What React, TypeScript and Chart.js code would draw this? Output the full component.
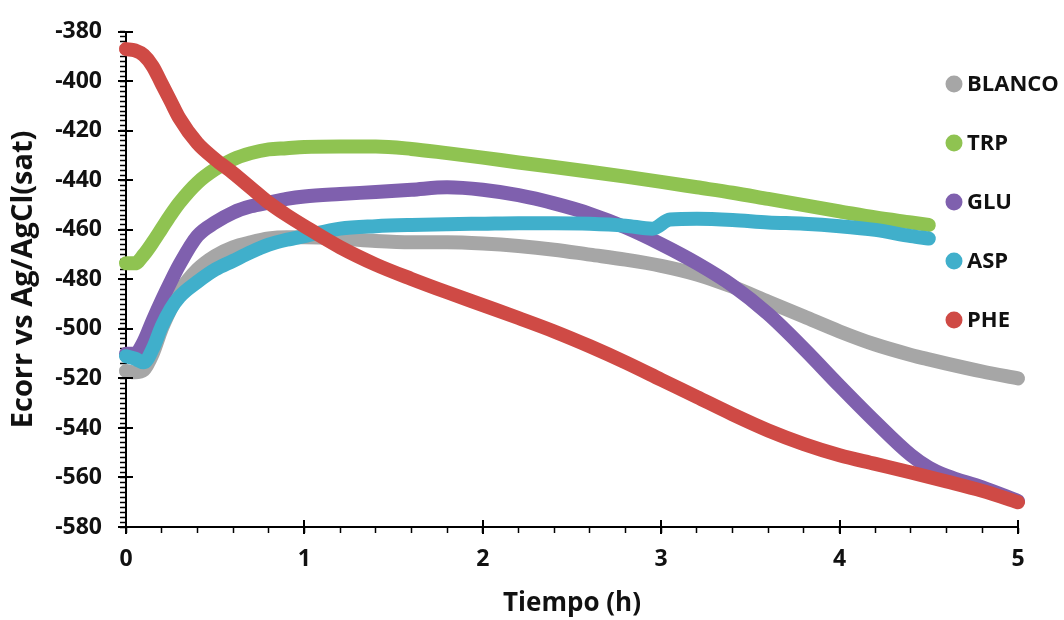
import React, { useEffect, useRef } from 'react';
import { Chart, registerables } from 'chart.js';

Chart.register(...registerables);

// ---- Data ----
const timeH = [0, 0.05, 0.1, 0.15, 0.2, 0.25, 0.3, 0.4, 0.5, 0.6, 0.7, 0.8, 0.9, 1.0, 1.2, 1.4, 1.6, 1.8, 2.0, 2.2, 2.4, 2.6, 2.8, 3.0, 3.2, 3.4, 3.6, 3.8, 4.0, 4.2, 4.4, 4.5, 4.6, 4.8, 5.0];
const timeTrp = timeH.slice(0, 32);
const timeAsp = [0, 0.05, 0.1, 0.15, 0.2, 0.25, 0.3, 0.4, 0.5, 0.6, 0.7, 0.8, 0.9, 1.0, 1.2, 1.4, 1.6, 1.8, 2.0, 2.2, 2.4, 2.6, 2.8, 2.95, 3.05, 3.2, 3.4, 3.6, 3.8, 4.0, 4.2, 4.4, 4.5];

const blanco = [-517, -517.5, -516.5, -510, -500, -492, -485, -476, -470.5, -467, -465, -463.5, -463, -463, -463.5, -464.5, -465, -465, -465.5, -466.5, -468, -470, -472, -474.5, -478, -483, -489, -495, -501, -506.3, -510.5, -512.3, -514, -517.2, -520];
const trp = [-473.5, -473.5, -470, -465, -459.5, -454, -449, -441, -435.5, -431.5, -429, -427.5, -427, -426.5, -426.3, -426.3, -427.3, -429, -430.8, -432.8, -434.6, -436.5, -438.5, -440.6, -442.8, -445, -447.5, -450, -452.5, -455, -457, -458];
const glu = [-510, -510, -505, -496.5, -488.5, -481, -474, -462.5, -457, -453, -450.5, -449, -447.5, -446.5, -445.5, -444.7, -443.8, -442.8, -443.8, -446, -449.3, -453.5, -459, -465.8, -473.5, -482.5, -494, -508, -523, -537.5, -551, -556, -559.3, -564, -569.5];
const asp = [-511, -512, -513.5, -508, -499, -492, -487, -481, -476, -472.5, -469, -466, -464, -462.5, -459.5, -458.5, -458, -457.7, -457.5, -457.3, -457.3, -457.5, -458.3, -459.5, -455.8, -455.5, -456, -457, -457.5, -458.5, -460, -462.5, -463.5];
const phe = [-387, -387.5, -389.5, -394, -401, -408, -415, -425, -431.5, -437, -443, -449, -454, -458.5, -467, -474, -479.8, -485.2, -490.4, -495.6, -501, -507, -513.5, -520.5, -527.5, -534.5, -541, -546.5, -551, -554.5, -558, -559.8, -561.6, -565.4, -570];

const seriesLabels = ['BLANCO', 'TRP', 'GLU', 'ASP', 'PHE'];
const seriesColors = ['#A6A6A6', '#8FC351', '#7F60AE', '#40AFCB', '#CF4A45'];

const xMin = 0, xMax = 5, xMinorStep = 0.2, xMajorStep = 1;
const yMin = -580, yMax = -380, yMinorStep = 2, yMajorStep = 20;
const xTitle = 'Tiempo (h)';
const yTitle = 'Ecorr vs Ag/AgCl(sat)';

const FONT = '"Open Sans", "DejaVu Sans", sans-serif';

function toPoints(xs: number[], ys: number[]) {
  return ys.map((y, i) => ({ x: xs[i], y }));
}

function rangeTicks(min: number, max: number, step: number) {
  const out: { value: number }[] = [];
  const n = Math.round((max - min) / step);
  for (let i = 0; i <= n; i++) out.push({ value: +(min + i * step).toFixed(6) });
  return out;
}

const isMultiple = (v: number, step: number) => Math.abs(v / step - Math.round(v / step)) < 1e-6;

const majorTickPlugin = {
  id: 'majorTicks',
  afterDraw(chart: any) {
    const { ctx, chartArea } = chart;
    const xs = chart.scales.x;
    const ys = chart.scales.y;
    ctx.save();
    ctx.strokeStyle = '#000';
    ctx.lineWidth = 2;
    ctx.beginPath();
    for (let v = xMin; v <= xMax + 1e-9; v += xMajorStep) {
      const px = Math.round(xs.getPixelForValue(v));
      ctx.moveTo(px, chartArea.bottom - 7);
      ctx.lineTo(px, chartArea.bottom + 7);
    }
    for (let v = yMin; v <= yMax + 1e-9; v += yMajorStep) {
      const py = Math.round(ys.getPixelForValue(v));
      ctx.moveTo(chartArea.left - 8, py);
      ctx.lineTo(chartArea.left + 7, py);
    }
    ctx.stroke();
    ctx.restore();
  },
};

const sideLegendPlugin = {
  id: 'sideLegend',
  afterDraw(chart: any) {
    const { ctx } = chart;
    ctx.save();
    ctx.font = `bold 22px ${FONT}`;
    ctx.textBaseline = 'middle';
    ctx.textAlign = 'left';
    chart.data.datasets.forEach((ds: any, i: number) => {
      const cy = 84 + i * 59;
      ctx.fillStyle = ds.borderColor;
      ctx.beginPath();
      ctx.arc(954, cy, 8.5, 0, Math.PI * 2);
      ctx.fill();
      ctx.fillStyle = '#111';
      ctx.fillText(ds.label, 967, cy + 1);
    });
    ctx.restore();
  },
};

export default function App() {
  const canvasRef = useRef<HTMLCanvasElement | null>(null);

  useEffect(() => {
    document.body.style.margin = '0';
    const canvas = canvasRef.current;
    if (!canvas) return;

    const seriesData = [
      toPoints(timeH, blanco),
      toPoints(timeTrp, trp),
      toPoints(timeH, glu),
      toPoints(timeAsp, asp),
      toPoints(timeH, phe),
    ];

    const chart = new Chart(canvas, {
      type: 'line',
      data: {
        datasets: seriesLabels.map((label, i) => ({
          label,
          data: seriesData[i],
          borderColor: seriesColors[i],
          backgroundColor: seriesColors[i],
          borderWidth: 14,
          borderCapStyle: 'round',
          borderJoinStyle: 'round',
          pointRadius: 0,
          cubicInterpolationMode: 'monotone',
          fill: false,
          clip: false,
          order: seriesLabels.length - i,
        })),
      } as any,
      options: {
        animation: false,
        responsive: false,
        devicePixelRatio: 1,
        layout: { padding: { left: 0, right: 46, top: 24, bottom: 0 } },
        plugins: {
          legend: { display: false },
          tooltip: { enabled: false },
        },
        scales: {
          x: {
            type: 'linear',
            min: xMin,
            max: xMax,
            afterBuildTicks: (scale: any) => {
              scale.ticks = rangeTicks(xMin, xMax, xMinorStep);
            },
            afterFit: (scale: any) => {
              scale.height = 93;
            },
            ticks: {
              autoSkip: false,
              maxRotation: 0,
              padding: 13,
              color: '#111',
              font: { family: FONT, size: 23, weight: 'bold' },
              callback: (v: any) => (isMultiple(Number(v), xMajorStep) ? String(Math.round(Number(v))) : ''),
            },
            grid: {
              drawOnChartArea: false,
              drawTicks: true,
              tickLength: 6,
              tickColor: '#000',
              tickWidth: 1.5,
            },
            border: { display: true, color: '#000', width: 2 },
            title: {
              display: true,
              text: xTitle,
              color: '#111',
              font: { family: FONT, size: 26, weight: 'bold' },
              padding: { top: 0, bottom: 1 },
            },
          },
          y: {
            type: 'linear',
            min: yMin,
            max: yMax,
            afterBuildTicks: (scale: any) => {
              scale.ticks = rangeTicks(yMin, yMax, yMinorStep);
            },
            afterFit: (scale: any) => {
              scale.width = 126;
            },
            ticks: {
              autoSkip: false,
              padding: 18,
              color: '#111',
              font: { family: FONT, size: 23, weight: 'bold' },
              callback: (v: any) => (isMultiple(Number(v), yMajorStep) ? String(Math.round(Number(v))) : ''),
            },
            grid: {
              drawOnChartArea: false,
              drawTicks: true,
              tickLength: 6,
              tickColor: '#000',
              tickWidth: 1.5,
            },
            border: { display: true, color: '#000', width: 2 },
            title: {
              display: true,
              text: yTitle,
              color: '#111',
              font: { family: FONT, size: 29, weight: 'bold' },
              padding: { top: 6, bottom: 0 },
            },
          },
        },
      } as any,
      plugins: [majorTickPlugin, sideLegendPlugin],
    });

    return () => chart.destroy();
  }, []);

  return (
    <div style={{ width: 1064, height: 620, background: '#fff' }}>
      <canvas ref={canvasRef} width={1064} height={620} style={{ display: 'block' }} />
    </div>
  );
}
